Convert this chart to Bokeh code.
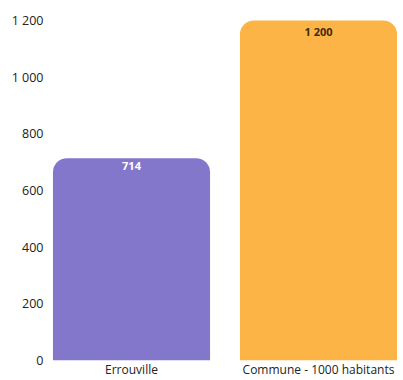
from bokeh.plotting import figure
from bokeh.models import ColumnDataSource, FixedTicker, Range1d
from bokeh.core.properties import value
from bokeh.embed import file_html
from bokeh.resources import INLINE

# Data
categories = ["Errouville", "Commune - 1000 habitants"]
counts = [714, 1200]
bar_colors = ["#8377CC", "#FDB446"]
value_labels = ["714", "1 200"]
label_colors = ["#FFFFFF", "#3D2B0F"]
y_ticks = [0, 200, 400, 600, 800, 1000, 1200]
y_tick_labels = ["0", "200", "400", "600", "800", "1 000", "1 200"]

source = ColumnDataSource(dict(
    cat=categories, count=counts, color=bar_colors,
    label=value_labels, label_color=label_colors,
))

p = figure(
    x_range=categories, width=403, height=380,
    output_backend="svg", toolbar_location=None,
    min_border_left=46, min_border_right=0, min_border_top=10, min_border_bottom=0,
)
p.y_range = Range1d(0, 1235)
# pull the categories slightly apart so the bars fill the frame edge to edge
p.x_range.range_padding = -0.0455
p.x_range.range_padding_units = "absolute"

p.vbar(x="cat", top="count", width=0.84, source=source,
       fill_color="color", line_color=None,
       border_radius=(14, 14, 0, 0))

p.text(x="cat", y="count", text="label", source=source,
       text_color="label_color", text_align="center", text_baseline="top",
       y_offset=4, text_font=value("Open Sans"), text_font_size="11px",
       text_font_style="bold")

# Axes
p.yaxis.ticker = FixedTicker(ticks=y_ticks)
p.yaxis.major_label_overrides = {t: s for t, s in zip(y_ticks, y_tick_labels)}
for ax in (p.xaxis[0], p.yaxis[0]):
    ax.axis_line_color = None
    ax.major_tick_line_color = None
    ax.minor_tick_line_color = None
    ax.major_tick_out = 0
    ax.major_tick_in = 0
    ax.major_label_text_font = "Open Sans"
    ax.major_label_text_color = "#222222"
p.yaxis.major_label_text_font_size = "12.5px"
p.xaxis.major_label_text_font_size = "12px"
p.yaxis.major_label_standoff = 3
p.xaxis.major_label_standoff = 0

p.xgrid.grid_line_color = None
p.ygrid.grid_line_color = None
p.outline_line_color = None

open("out.html", "w").write(file_html(p, INLINE))
